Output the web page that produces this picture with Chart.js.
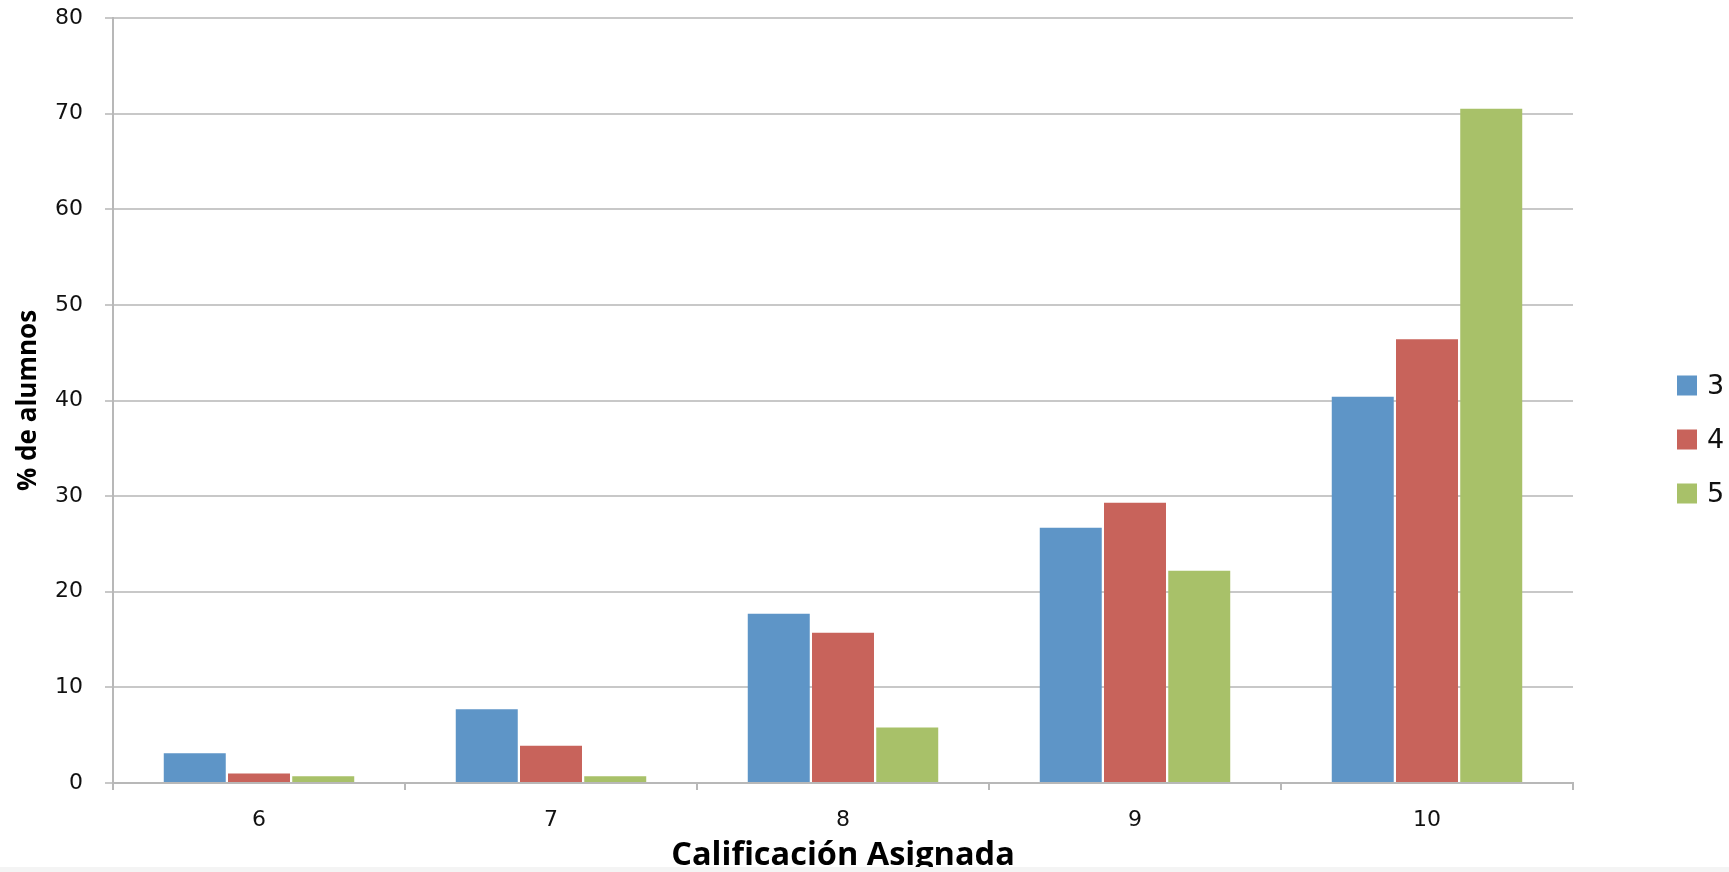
<!DOCTYPE html>
<html>
<head>
<meta charset="utf-8">
<script src="https://cdn.jsdelivr.net/npm/chart.js@4.4.1/dist/chart.umd.min.js"></script>
<style>
    body { margin: 0; background: #fff; }
    #wrap { position: relative; width: 1729px; height: 872px; background: #fff; }
    #band { position: absolute; left: 0; bottom: 0; width: 1729px; height: 5px; background: #f4f4f4; }
</style>
</head>
<body>
<div id="wrap"><canvas id="chart"></canvas><div id="band"></div></div>
<script>
// Datos
const categorias = ['6', '7', '8', '9', '10'];
const serie3 = [3.1, 7.7, 17.7, 26.7, 40.4];
const serie4 = [1.0, 3.9, 15.7, 29.3, 46.4];
const serie5 = [0.7, 0.7, 5.8, 22.2, 70.5];
const nombres = ['3', '4', '5'];

const COLORS = ['#5e95c7', '#c8635b', '#a8c169'];

Chart.defaults.font.family = 'DejaVu Sans';
Chart.defaults.color = '#111';

// Leyenda a la derecha, dibujada a mano para poder colocarla como en el original
const leyendaDerecha = {
    id: 'leyendaDerecha',
    afterDraw: function(chart) {
        const c = chart.ctx;
        const area = chart.chartArea;
        const x0 = area.right + 104;
        const yc = (area.top + area.bottom) / 2 + 39;
        const paso = 54;
        c.save();
        c.font = '27px "DejaVu Sans"';
        c.textBaseline = 'middle';
        chart.data.datasets.forEach(function(ds, i) {
            const y = yc + (i - 1) * paso;
            c.fillStyle = ds.backgroundColor;
            c.fillRect(x0, y - 10, 20, 20);
            c.fillStyle = '#111';
            c.fillText(ds.label, x0 + 30, y + 1);
        });
        c.restore();
    }
};

const ctx = document.getElementById('chart').getContext('2d');

new Chart(ctx, {
    type: 'bar',
    data: {
        labels: categorias,
        datasets: [serie3, serie4, serie5].map(function(values, i) {
            return {
                label: nombres[i],
                data: values,
                backgroundColor: COLORS[i],
                borderWidth: 0,
                categoryPercentage: 0.66,
                barPercentage: 0.965
            };
        })
    },
    plugins: [leyendaDerecha],
    options: {
        responsive: true,
        maintainAspectRatio: false,
        animation: false,
        layout: {
            padding: { top: 18, right: 156, left: 0, bottom: 0 }
        },
        plugins: {
            tooltip: { enabled: false },
            legend: { display: false }
        },
        scales: {
            x: {
                grid: {
                    drawOnChartArea: false,
                    drawTicks: true,
                    tickLength: 7,
                    color: '#b8b8b8',
                    lineWidth: 2
                },
                border: { color: '#b8b8b8', width: 2 },
                ticks: {
                    padding: 17,
                    font: { size: 22 }
                },
                title: {
                    display: true,
                    text: 'Calificación Asignada',
                    font: { family: 'Open Sans', size: 32.5, weight: 'bold' },
                    color: '#000',
                    padding: { top: 4, bottom: -3 }
                },
                afterFit: function(scale) { scale.height = 89; }
            },
            y: {
                min: 0,
                max: 80,
                ticks: {
                    stepSize: 10,
                    padding: 22,
                    font: { size: 22 }
                },
                grid: {
                    color: '#c8c8c8',
                    lineWidth: 2,
                    tickLength: 8
                },
                border: { color: '#b8b8b8', width: 2 },
                title: {
                    display: true,
                    text: '% de alumnos',
                    font: { family: 'Open Sans', size: 26, weight: 'bold' },
                    color: '#000',
                    padding: { top: 13, bottom: 4 }
                },
                afterFit: function(scale) {
                    scale.width = 113;
                    scale.paddingTop = 0;
                    scale.paddingBottom = 0;
                }
            }
        }
    }
});
</script>
</body>
</html>
